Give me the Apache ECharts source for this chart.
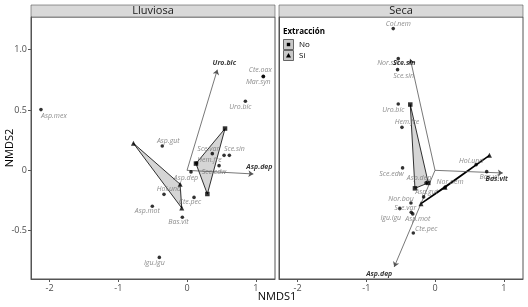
<!DOCTYPE html>
<html>
<head>
<meta charset="utf-8">
<script src="https://cdn.jsdelivr.net/npm/echarts@6/dist/echarts.min.js"></script>
<style>
  html, body { margin: 0; padding: 0; background: #fff; }
</style>
</head>
<body>
<div id="chart" style="width:528px;height:307px;"></div>
<script>
// ---- data: Lluviosa ----
let lluvSpecies = ["Asp.mex", "Uro.bic", "Cte.oax", "Mar.syn", "Asp.gut", "Sce.var", "", "Sce.sin", "Hem.fre", "Sce.edw", "Asp.dep", "Hol.und", "Cte.pec", "Asp.mot", "Bas.vit", "Igu.igu"]
let lluvX = [-2.125, 0.849, 1.11, 1.11, -0.36, 0.368, 0.539, 0.616, 0.138, 0.466, 0.058, -0.335, 0.102, -0.505, -0.068, -0.403]
let lluvY = [0.503, 0.572, 0.779, 0.776, 0.202, 0.138, 0.124, 0.124, 0.06, 0.039, -0.013, -0.199, -0.224, -0.298, -0.389, -0.721]
let lluvArrowNames = ["Uro.bic", "Asp.dep"]
let lluvArrowX = [0.441, 0.965]
let lluvArrowY = [0.834, -0.03]
let lluvNoX = [0.553, 0.13, 0.296]
let lluvNoY = [0.346, 0.056, -0.196]
let lluvSiX = [-0.78, -0.10, -0.077]
let lluvSiY = [0.224, -0.115, -0.312]

// ---- data: Seca ----
let secaSpecies = ["Col.nem", "Nor.sin", "Sce.sin", "Uro.bic", "Hem.fre", "Sce.edw", "Asp.dep", "Asp.gut", "Nor.bou", "Sce.var", "Igu.igu", "Asp.mot", "Cte.pec", "Nor.nem", "Hol.und", "Bas.vit"]
let secaX = [-0.608, -0.535, -0.545, -0.535, -0.481, -0.472, -0.131, -0.166, -0.35, -0.346, -0.513, -0.324, -0.316, 0.146, 0.598, 0.752]
let secaY = [1.174, 0.925, 0.834, 0.55, 0.356, 0.02, -0.104, -0.22, -0.27, -0.348, -0.317, -0.361, -0.519, -0.141, 0.047, -0.011]
let secaArrowNames = ["Sce.sin", "Bas.vit", "Asp.dep"]
let secaArrowX = [-0.36, 0.986, -0.594]
let secaArrowY = [0.923, -0.022, -0.80]
let secaNoX = [-0.36, -0.292, -0.098]
let secaNoY = [0.545, -0.149, -0.104]
let secaSiX = [0.792, 0.146, -0.204]
let secaSiY = [0.124, -0.141, -0.276]

// tick labels
let xTicks = [-2, -1, 0, 1]
let yTicks = [-0.5, 0, 0.5, 1.0]

// label offsets (px) for text placement
let lluvLabelOff = [[13, 6], [-5, 6], [-3, -6], [-5, 5], [6, -5], [-4, -5], [0, 0], [5, -6], [13, -3], [-5, 6], [-5, 6], [5, -5], [-4, 5], [-5, 5], [-4, 5], [-5, 6]]
let lluvArrowOff = [[7, -7], [6, -7]]
let secaLabelOff = [[5, -5], [-10, 4], [6, 6], [-5, 6], [5, -5], [-11, 6], [-7, -5], [3, -5], [-10, -4], [-6, -4], [-9, 9], [5, 5], [13, -4], [5, -5], [-5, -4], [3, 5]]
let secaArrowOff = [[-6, 4], [-6, 6], [-15, 7]]

const FONT = "Open Sans"
const greyTxt = "#6e6e6e"

function speciesSeries(idx, names, xs, ys, offs){
    return {
        type: "scatter",
        xAxisIndex: idx, yAxisIndex: idx,
        symbol: "circle",
        symbolSize: 3.6,
        z: 5,
        itemStyle: { color: "#000" },
        data: names.map((n, i) => ({
            value: [xs[i], ys[i]],
            label: {
                show: n !== "",
                formatter: n,
                position: "inside",
                offset: offs[i],
                fontFamily: FONT,
                fontStyle: "italic",
                fontSize: 7,
                color: greyTxt
            }
        }))
    }
}

function arrowSeries(idx, xs, ys){
    return {
        type: "lines",
        coordinateSystem: "cartesian2d",
        xAxisIndex: idx, yAxisIndex: idx,
        symbol: ["none", "arrow"],
        symbolSize: [0, 5],
        z: 3,
        lineStyle: { color: "#555", width: 0.8, opacity: 1 },
        data: xs.map((x, i) => ({ coords: [[0, 0], [x, ys[i]]] }))
    }
}

function arrowLabelSeries(idx, names, xs, ys, offs){
    return {
        type: "scatter",
        xAxisIndex: idx, yAxisIndex: idx,
        symbolSize: 0,
        z: 6,
        data: names.map((n, i) => ({
            value: [xs[i], ys[i]],
            label: {
                show: true,
                formatter: n,
                position: "inside",
                offset: offs[i],
                fontFamily: FONT,
                fontStyle: "italic",
                fontWeight: "bold",
                fontSize: 7,
                color: "#000"
            }
        }))
    }
}

function hullSeries(idx, xs, ys, lw){
    let pts = xs.map((x, i) => [x, ys[i]])
    return {
        type: "custom",
        xAxisIndex: idx, yAxisIndex: idx,
        z: 2,
        data: pts,
        renderItem: function(params, api){
            if (params.dataIndex !== 0) return null
            return {
                type: "polygon",
                shape: { points: pts.map(p => api.coord(p)) },
                style: { fill: "rgba(190,190,190,0.65)", stroke: "#000", lineWidth: lw }
            }
        }
    }
}

function siteSeries(idx, xs, ys, symbol, size){
    return {
        type: "scatter",
        xAxisIndex: idx, yAxisIndex: idx,
        symbol: symbol,
        symbolSize: size,
        z: 4,
        itemStyle: { color: "#000" },
        data: xs.map((x, i) => [x, ys[i]])
    }
}

function xAxisOpt(idx){
    return {
        type: "value", gridIndex: idx,
        min: -2.27, max: 1.28,
        axisLine: { show: true, onZero: false, lineStyle: { color: "#555", width: 1 } },
        axisTick: { show: true, length: 3, customValues: xTicks, lineStyle: { color: "#555" } },
        axisLabel: { customValues: xTicks, fontFamily: FONT, fontSize: 9, color: "#4d4d4d", margin: 5 },
        splitLine: { show: false }
    }
}

function yAxisOpt(idx, labels){
    return {
        type: "value", gridIndex: idx,
        min: -0.9, max: 1.27,
        axisLine: { show: true, onZero: false, lineStyle: { color: "#555", width: 1 } },
        axisTick: { show: labels, length: 3, customValues: yTicks, lineStyle: { color: "#555" } },
        axisLabel: {
            show: labels, customValues: yTicks, fontFamily: FONT, fontSize: 9, color: "#4d4d4d", margin: 4,
            formatter: v => v === 0 ? "0" : v.toFixed(1)
        },
        splitLine: { show: false }
    }
}

let myChart = echarts.init(document.getElementById("chart"), null, { renderer: "canvas" })
let option = {
    animation: false,
    backgroundColor: "#fff",
    grid: [
        { left: 31, top: 17, width: 244, height: 262, show: true, borderColor: "#555", borderWidth: 1, backgroundColor: "#fff" },
        { left: 279, top: 17, width: 244, height: 262, show: true, borderColor: "#555", borderWidth: 1, backgroundColor: "#fff" }
    ],
    xAxis: [xAxisOpt(0), xAxisOpt(1)],
    yAxis: [yAxisOpt(0, true), yAxisOpt(1, false)],
    graphic: [
        // strips
        { type: "rect", shape: { x: 31, y: 5, width: 244, height: 12 }, style: { fill: "#d9d9d9", stroke: "#555", lineWidth: 0.6 } },
        { type: "text", x: 153, y: 11, style: { text: "Lluviosa", font: "11px 'Open Sans'", fill: "#1a1a1a", textAlign: "center", textVerticalAlign: "middle" } },
        { type: "rect", shape: { x: 279, y: 5, width: 244, height: 12 }, style: { fill: "#d9d9d9", stroke: "#555", lineWidth: 0.6 } },
        { type: "text", x: 401, y: 11, style: { text: "Seca", font: "11px 'Open Sans'", fill: "#1a1a1a", textAlign: "center", textVerticalAlign: "middle" } },
        // axis titles
        { type: "text", x: 277, y: 297, style: { text: "NMDS1", font: "11px 'Open Sans'", fill: "#000", textAlign: "center", textVerticalAlign: "middle" } },
        { type: "text", x: 10, y: 148, rotation: Math.PI / 2, style: { text: "NMDS2", font: "11px 'Open Sans'", fill: "#000", textAlign: "center", textVerticalAlign: "middle" } },
        // legend
        { type: "text", x: 283, y: 32, style: { text: "Extracción", font: "bold 8px 'Open Sans'", fill: "#000", textVerticalAlign: "middle" } },
        { type: "rect", shape: { x: 283.5, y: 39.5, width: 10, height: 10 }, style: { fill: "#c8c8c8", stroke: "#444", lineWidth: 0.8 } },
        { type: "rect", shape: { x: 286.8, y: 42.8, width: 3.4, height: 3.4 }, style: { fill: "#000" } },
        { type: "text", x: 299, y: 44.5, style: { text: "No", font: "8px 'Open Sans'", fill: "#000", textVerticalAlign: "middle" } },
        { type: "rect", shape: { x: 283.5, y: 50.5, width: 10, height: 10 }, style: { fill: "#c8c8c8", stroke: "#444", lineWidth: 0.8 } },
        { type: "polygon", shape: { points: [[288.5, 53], [291, 57.5], [286, 57.5]] }, style: { fill: "#000" } },
        { type: "text", x: 299, y: 55.5, style: { text: "Si", font: "8px 'Open Sans'", fill: "#000", textVerticalAlign: "middle" } }
    ],
    series: [
        hullSeries(0, lluvNoX, lluvNoY, 0.8),
        hullSeries(0, lluvSiX, lluvSiY, 0.8),
        arrowSeries(0, lluvArrowX, lluvArrowY),
        siteSeries(0, lluvNoX, lluvNoY, "rect", 4.5),
        siteSeries(0, lluvSiX, lluvSiY, "triangle", 5),
        speciesSeries(0, lluvSpecies, lluvX, lluvY, lluvLabelOff),
        arrowLabelSeries(0, lluvArrowNames, lluvArrowX, lluvArrowY, lluvArrowOff),

        hullSeries(1, secaNoX, secaNoY, 0.8),
        hullSeries(1, secaSiX, secaSiY, 1.4),
        arrowSeries(1, secaArrowX, secaArrowY),
        siteSeries(1, secaNoX, secaNoY, "rect", 4.5),
        siteSeries(1, secaSiX, secaSiY, "triangle", 5),
        speciesSeries(1, secaSpecies, secaX, secaY, secaLabelOff),
        arrowLabelSeries(1, secaArrowNames, secaArrowX, secaArrowY, secaArrowOff)
    ]
}
myChart.setOption(option)
</script>
</body>
</html>
